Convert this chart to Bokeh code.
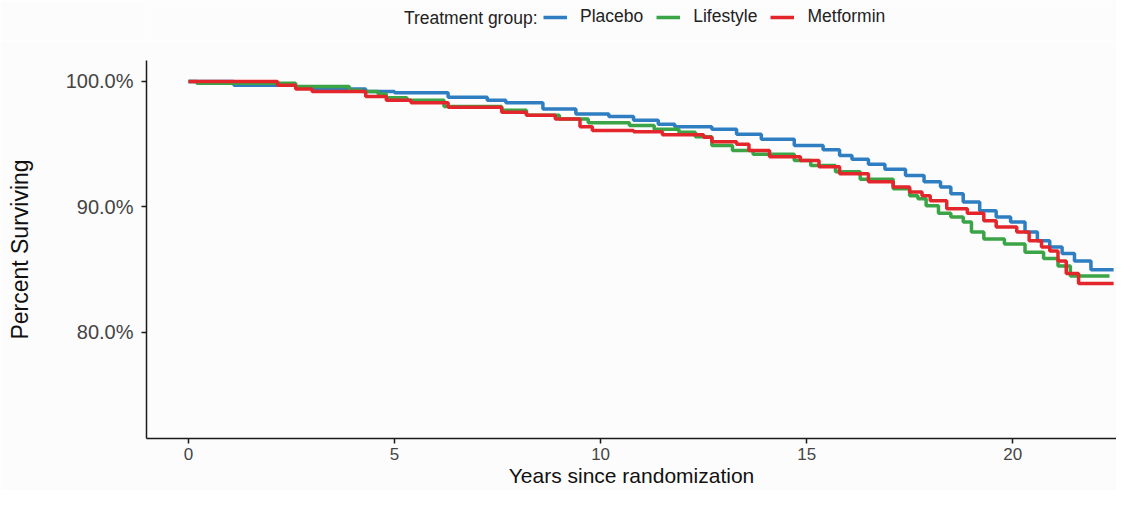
from bokeh.plotting import figure
from bokeh.layouts import column
from bokeh.models import Range1d, FixedTicker, Legend, LegendItem, Label
from bokeh.embed import file_html
from bokeh.resources import INLINE

# ---- data ----
placebo_t = [0.0, 1.1, 2.6, 3.0, 4.3, 5.0, 6.3, 7.25, 7.7, 8.6, 9.4, 10.2, 10.8, 11.4, 11.8,
             12.7, 13.3, 13.9, 14.7, 15.4, 15.8, 16.1, 16.5, 16.9, 17.4, 17.85, 18.25, 18.5,
             18.8, 19.2, 19.6, 19.95, 20.3, 20.6, 20.9, 21.2, 21.5, 21.9, 22.45]
placebo_s = [100.0, 99.7, 99.5, 99.4, 99.2, 99.1, 98.75, 98.5, 98.3, 97.8, 97.4, 97.2, 96.9, 96.6, 96.4,
             96.2, 95.8, 95.4, 94.9, 94.55, 94.1, 93.8, 93.4, 93.0, 92.5, 92.0, 91.6, 91.05,
             90.4, 89.7, 89.2, 88.8, 88.0, 87.3, 86.8, 86.3, 85.7, 85.0, 85.0]

lifestyle_t = [0.0, 0.2, 2.6, 3.9, 4.2, 4.6, 4.8, 5.3, 6.2, 7.6, 8.2, 9.0, 9.7, 10.7, 11.3, 11.9,
               12.3, 12.7, 13.2, 13.7, 14.7, 15.1, 15.7, 16.3, 17.1, 17.5, 17.7, 17.9, 18.2, 18.5,
               18.8, 19.0, 19.3, 19.8, 20.3, 20.75, 21.1, 21.4, 22.35]
lifestyle_s = [100.0, 99.85, 99.6, 99.3, 99.2, 99.0, 98.7, 98.5, 98.0, 97.7, 97.3, 97.0, 96.7, 96.5, 96.2, 95.95,
               95.6, 94.9, 94.5, 94.2, 93.7, 93.3, 92.8, 92.2, 91.45, 90.9, 90.65, 90.1, 89.5, 89.2,
               88.8, 88.0, 87.45, 87.05, 86.4, 85.9, 85.3, 84.5, 84.5]

metformin_t = [0.0, 2.16, 2.6, 3.0, 4.3, 4.8, 5.4, 6.3, 7.6, 8.2, 8.9, 9.5, 9.8, 10.8, 11.5, 12.5,
               12.7, 13.3, 13.6, 14.1, 14.85, 15.3, 15.8, 16.5, 17.1, 17.5, 17.8, 18.0, 18.4, 18.9,
               19.3, 19.6, 20.1, 20.4, 20.7, 20.9, 21.1, 21.3, 21.6, 22.45]
metformin_s = [100.0, 99.7, 99.4, 99.2, 98.8, 98.5, 98.3, 97.95, 97.55, 97.3, 97.0, 96.4, 96.1, 96.0, 95.75, 95.55,
               95.2, 95.0, 94.5, 94.0, 93.7, 93.2, 92.65, 92.0, 91.6, 91.2, 90.9, 90.5, 89.85, 89.5,
               88.9, 88.4, 88.0, 87.3, 86.8, 86.5, 85.7, 84.7, 83.9, 83.9]

series_names = ["Placebo", "Lifestyle", "Metformin"]
series_colors = ["#2F7EC1", "#3BA446", "#E3262B"]
legend_title = "Treatment group:"

x_ticks = [0, 5, 10, 15, 20]
y_ticks = [80, 90, 100]
y_tick_labels = ["80.0%", "90.0%", "100.0%"]

x_title = "Years since randomization"
y_title = "Percent Surviving"

FONT = "Liberation Sans"
BG = "#fcfcfc"
W = 1116
LEG_H = 40
LEFT = 146
LW = 3.5
LEG_FS = "17.5px"

# ---------------- legend strip (frame is aligned with the main plot's frame) ----------------
lg = figure(width=W, height=LEG_H, output_backend="svg", toolbar_location=None,
            x_range=Range1d(LEFT, W), y_range=Range1d(0, LEG_H),
            min_border_left=LEFT, min_border_right=0, min_border_top=0, min_border_bottom=0)
lg.axis.visible = False
lg.grid.visible = False
lg.outline_line_color = None
lg.background_fill_color = BG
lg.border_fill_color = BG

nan = float("nan")
leg_renderers = [lg.line(x=[nan], y=[nan], line_color=c, line_width=LW) for c in series_colors]
legend = Legend(items=[LegendItem(label=n, renderers=[r]) for n, r in zip(series_names, leg_renderers)],
                orientation="horizontal", location=(543 - LEFT, 13))
legend.border_line_color = None
legend.background_fill_alpha = 0
legend.padding = 0
legend.margin = 0
legend.spacing = 13
legend.label_standoff = 13
legend.glyph_width = 24
legend.glyph_height = 20
legend.label_height = 20
legend.label_text_font = FONT
legend.label_text_font_size = LEG_FS
legend.label_text_color = "#222222"
lg.add_layout(legend, "center")
lg.add_layout(Label(x=537, y=23, text=legend_title, text_align="right", text_baseline="middle",
                    text_font=FONT, text_font_size=LEG_FS, text_color="#222222"))

# ---------------- main plot ----------------
p = figure(width=W, height=490 - LEG_H, output_backend="svg", toolbar_location=None,
           x_range=Range1d(-1.02, 22.52), y_range=Range1d(71.55, 101.67),
           min_border_left=LEFT, min_border_right=0, min_border_top=20, min_border_bottom=52)
p.outline_line_color = None
p.grid.visible = False
p.background_fill_color = BG
p.border_fill_color = BG

for t, s, c in zip([placebo_t, lifestyle_t, metformin_t],
                   [placebo_s, lifestyle_s, metformin_s], series_colors):
    p.step(t, s, mode="after", line_color=c, line_width=LW)

for ax in (p.xaxis[0], p.yaxis[0]):
    ax.axis_line_color = "#1a1a1a"
    ax.axis_line_width = 1.5
    ax.major_tick_line_color = "#1a1a1a"
    ax.major_tick_line_width = 1.5
    ax.major_tick_out = 5
    ax.major_tick_in = 0
    ax.minor_tick_out = 0
    ax.minor_tick_in = 0
    ax.major_label_text_font = FONT
    ax.major_label_text_color = "#444444"
    ax.axis_label_text_font = FONT
    ax.axis_label_text_font_style = "normal"
    ax.axis_label_text_color = "#111111"

p.xaxis.ticker = FixedTicker(ticks=x_ticks)
p.xaxis.major_label_text_font_size = "17px"
p.xaxis.major_label_standoff = 4
p.xaxis.axis_label = x_title
p.xaxis.axis_label_text_font_size = "21px"
p.xaxis.axis_label_standoff = 1

p.yaxis.ticker = FixedTicker(ticks=y_ticks)
p.yaxis.major_label_overrides = {v: l for v, l in zip(y_ticks, y_tick_labels)}
p.yaxis.major_label_text_font_size = "20px"
p.yaxis.major_label_standoff = 8
p.yaxis.axis_label = y_title
p.yaxis.axis_label_text_font_size = "23px"
p.yaxis.axis_label_standoff = 30

layout = column(lg, p, spacing=0)
open("out.html", "w").write(file_html(layout, INLINE))
